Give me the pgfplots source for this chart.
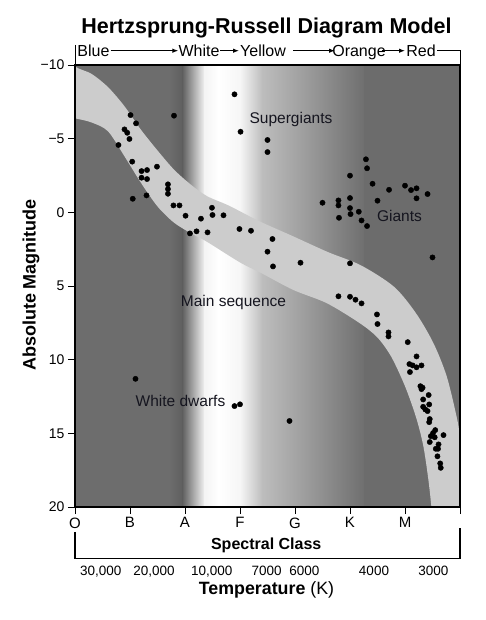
\documentclass[border=0pt]{standalone}
\usepackage{pgfplots}
\pgfplotsset{compat=1.18}
\usetikzlibrary{arrows.meta}
\usepackage{fontspec}
\setmainfont{Liberation Sans}
\definecolor{bandgray}{HTML}{CCCCCC}
\definecolor{txt}{HTML}{15151F}
\newcommand{\fs}[1]{\fontsize{#1}{#1}\selectfont}
\begin{document}
\begin{tikzpicture}
\useasboundingbox (-75pt,-113pt) rectangle (410pt,507pt);
\begin{axis}[
  at={(0pt,0pt)}, anchor=south west,
  scale only axis, width=385pt, height=442pt,
  xmin=0, xmax=7, ymin=-10, ymax=20, y dir=reverse,
  axis on top,
  xtick={0,1,2,3,4,5,6,7},
  xticklabels={O,B,A,F,G,K,M,{}},
  ytick={-10,-5,0,5,10,15,20},
  yticklabels={−10,−5,0,5,10,15,20},
  tick align=outside, tick pos=left,
  major tick length=7pt,
  tick style={black, line width=0.8pt},
  axis line style={black, line width=1.2pt},
  xticklabel style={font=\fs{15}},
  yticklabel style={font=\fs{14}},
]
% background gradient
\addplot[draw=none, fill={rgb,255:red,109;green,109;blue,109}] coordinates {(0,-10) (1.71,-10) (1.71,20) (0,20)} -- cycle;
\addplot[draw=none, left color={rgb,255:red,109;green,109;blue,109}, right color={rgb,255:red,95;green,95;blue,95}] coordinates {(1.7,-10) (1.96,-10) (1.96,20) (1.7,20)} -- cycle;
\addplot[draw=none, left color={rgb,255:red,95;green,95;blue,95}, right color={rgb,255:red,244;green,244;blue,244}] coordinates {(1.95,-10) (2.36,-10) (2.36,20) (1.95,20)} -- cycle;
\addplot[draw=none, left color={rgb,255:red,244;green,244;blue,244}, right color=white] coordinates {(2.35,-10) (2.61,-10) (2.61,20) (2.35,20)} -- cycle;
\addplot[draw=none, left color=white, right color={rgb,255:red,246;green,246;blue,246}] coordinates {(2.6,-10) (3.01,-10) (3.01,20) (2.6,20)} -- cycle;
\addplot[draw=none, left color={rgb,255:red,246;green,246;blue,246}, right color={rgb,255:red,189;green,189;blue,189}] coordinates {(3.0,-10) (3.41,-10) (3.41,20) (3.0,20)} -- cycle;
\addplot[draw=none, left color={rgb,255:red,189;green,189;blue,189}, right color={rgb,255:red,154;green,154;blue,154}] coordinates {(3.4,-10) (4.26,-10) (4.26,20) (3.4,20)} -- cycle;
\addplot[draw=none, left color={rgb,255:red,154;green,154;blue,154}, right color={rgb,255:red,111;green,111;blue,111}] coordinates {(4.25,-10) (5.26,-10) (5.26,20) (4.25,20)} -- cycle;
\addplot[draw=none, fill={rgb,255:red,108;green,108;blue,108}] coordinates {(5.25,-10) (7,-10) (7,20) (5.25,20)} -- cycle;
% main sequence band
\addplot[draw=none, fill=bandgray, smooth] coordinates {
 (-0.3,-11) (0,-9.9) (0.3,-9.4) (0.6,-8.5) (0.9,-7.2) (1.2,-5.6) (1.5,-4.2) (1.8,-2.9)
 (2.1,-1.9) (2.4,-1.1) (2.8,-0.45) (3.35,0.6) (3.95,1.6) (4.6,2.7) (5.2,3.6) (5.8,5.05)
 (6.2,6.85) (6.52,8.9) (6.76,11.15) (6.94,13.9) (7.0,15.2) (7.1,18) (7.2,23)
 (6.55,23) (6.48,20) (6.42,18) (6.33,15.8) (6.2,13.9) (6.0,11.8) (5.75,9.8) (5.5,8.5)
 (5.18,7.53) (4.58,6.17) (3.97,5.27) (3.4,4.15) (3.0,3.4) (2.4,2.0) (2.1,1.4)
 (1.8,0.7) (1.5,-0.4) (1.2,-2.0) (0.9,-3.8) (0.6,-5.5) (0.3,-6.1) (0,-6.38) (-0.3,-6.6)
};
% stars
\addplot[only marks, mark=*, mark size=2.65pt, mark options={draw=black, fill=black}] coordinates {
 (1.01,-6.6) (1.11,-6.04) (0.90,-5.63) (0.95,-5.4) (0.99,-4.98) (0.79,-4.57) (1.80,-6.56)
 (1.04,-3.44) (1.21,-2.80) (1.31,-2.87) (1.49,-3.10) (1.21,-2.35) (1.31,-2.26)
 (1.69,-1.90) (1.69,-1.58) (1.69,-1.26) (1.05,-0.92) (1.30,-1.15) (1.79,-0.47) (1.90,-0.47)
 (2.01,0.23) (2.29,0.43) (2.49,-0.31) (2.50,0.18) (2.70,0.20) (2.09,1.43) (2.21,1.29)
 (2.41,1.36) (2.99,1.13) (3.20,1.25) (3.59,1.81) (3.50,2.67) (3.6,3.67) (4.10,3.42)
 (2.90,-8.01) (3.01,-5.47) (3.50,-4.91) (3.50,-4.09)
 (5.29,-3.60) (5.31,-2.99) (5.0,-2.49) (5.41,-1.94) (5.71,-1.53) (6.0,-1.81) (6.11,-1.51)
 (6.21,-1.63) (6.41,-1.24) (6.21,-0.95) (5.50,-0.79) (5.0,-0.97) (4.79,-0.81) (4.79,-0.47)
 (4.50,-0.65) (5.0,-0.29) (5.01,0.12) (5.16,-0.04) (4.80,0.37) (5.21,0.55) (5.31,0.93)
 (6.50,3.06) (5.0,3.46)
 (4.79,5.70) (5.0,5.73) (5.10,5.93) (5.21,6.18) (5.49,6.93) (5.50,7.58) (5.70,8.15)
 (5.70,8.42) (6.05,8.81) (6.21,9.78) (6.08,10.30) (6.14,10.39) (6.21,10.52) (6.30,10.39)
 (6.09,10.84)
 (6.28,11.8) (6.32,11.9) (6.30,12.0) (6.43,12.4) (6.33,12.70) (6.44,13.04) (6.33,13.20)
 (6.37,13.38) (6.41,13.49) (6.45,14.03) (6.44,14.24) (6.55,14.78) (6.51,14.98) (6.70,15.12)
 (6.47,15.19) (6.54,15.27) (6.45,15.59) (6.61,15.75) (6.56,16.05) (6.60,16.05) (6.59,16.56)
 (6.64,17.04) (6.65,17.34)
 (1.10,11.3) (2.90,13.15) (3.0,13.03) (3.90,14.16)
};
\end{axis}
% region labels
\node[anchor=base, font=\fs{15.5}, text=txt, inner sep=0pt] at (216pt,383.7pt) {Supergiants};
\node[anchor=base, font=\fs{15.5}, text=txt, inner sep=0pt] at (324.5pt,285.3pt) {Giants};
\node[anchor=base, font=\fs{15.5}, text=txt, inner sep=0pt] at (158.5pt,200.3pt) {Main sequence};
\node[anchor=base, font=\fs{15.5}, text=txt, inner sep=0pt] at (105.5pt,100.3pt) {White dwarfs};
% title
\node[anchor=base, font=\bfseries\fs{21.5}, inner sep=0pt] at (191.5pt,473pt) {Hertzsprung-Russell Diagram Model};
% colour bracket on top
\draw[line width=1pt] (0pt,462pt) -- (0pt,442pt);
\draw[line width=1pt] (362pt,456.3pt) -- (385pt,456.3pt) -- (385pt,442pt);
\draw[line width=1pt, -{Latex[length=6pt,width=4.5pt]}] (35.5pt,456.3pt) -- (103.3pt,456.3pt);
\draw[line width=1pt, -{Latex[length=6pt,width=4.5pt]}] (145pt,456.3pt) -- (164pt,456.3pt);
\draw[line width=1pt, -{Latex[length=6pt,width=4.5pt]}] (218.3pt,456.3pt) -- (260pt,456.3pt);
\draw[line width=1pt, -{Latex[length=6pt,width=4.5pt]}] (306.5pt,456.3pt) -- (330pt,456.3pt);
\node[anchor=base, font=\fs{16}, inner sep=0pt] at (18.5pt,450.3pt) {Blue};
\node[anchor=base, font=\fs{16}, inner sep=0pt] at (124pt,450.3pt) {White};
\node[anchor=base, font=\fs{16}, inner sep=0pt] at (188pt,450.3pt) {Yellow};
\node[anchor=base, font=\fs{16}, inner sep=0pt] at (284pt,450.3pt) {Orange};
\node[anchor=base, font=\fs{16}, inner sep=0pt] at (346pt,450.3pt) {Red};
% spectral class bracket
\draw[line width=1.2pt] (0pt,-25pt) -- (0pt,-51.7pt) -- (385pt,-51.7pt) -- (385pt,-21pt);
\node[anchor=base, font=\bfseries\fs{16}, inner sep=0pt] at (191.2pt,-42pt) {Spectral Class};
% temperatures
\node[anchor=base, font=\fs{13.5}, inner sep=0pt] at (25.7pt,-68pt) {30,000};
\node[anchor=base, font=\fs{13.5}, inner sep=0pt] at (79pt,-68pt) {20,000};
\node[anchor=base, font=\fs{13.5}, inner sep=0pt] at (136.7pt,-68pt) {10,000};
\node[anchor=base, font=\fs{13.5}, inner sep=0pt] at (191.7pt,-68pt) {7000};
\node[anchor=base, font=\fs{13.5}, inner sep=0pt] at (229.3pt,-68pt) {6000};
\node[anchor=base, font=\fs{13.5}, inner sep=0pt] at (299pt,-68pt) {4000};
\node[anchor=base, font=\fs{13.5}, inner sep=0pt] at (358.3pt,-68pt) {3000};
\node[anchor=base, font=\fs{17.8}, inner sep=0pt] at (191.5pt,-87.3pt) {\textbf{Temperature} (K)};
% y label
\node[rotate=90, font=\bfseries\fs{18}, inner sep=0pt] at (-44pt,222pt) {Absolute Magnitude};
\end{tikzpicture}
\end{document}
